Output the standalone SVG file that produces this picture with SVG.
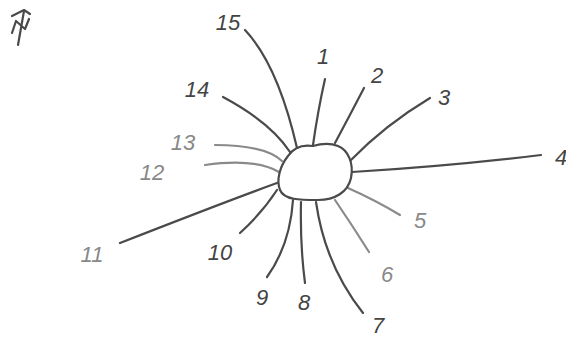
<svg xmlns="http://www.w3.org/2000/svg" width="566" height="337" viewBox="0 0 566 337">
<style>
.ln{fill:none;stroke:#4a4a4a;stroke-width:2.2;stroke-linecap:round;stroke-linejoin:round}
.lt{stroke:#8a8a8a}
.lb{font-family:"Liberation Sans",Arial,sans-serif;font-size:22px;fill:#444;font-style:italic;text-anchor:middle}
.lbt{fill:#888}
</style>
<rect width="566" height="337" fill="#fff"/>
<g id="north">
<path class="ln" d="M18,45 L24,11 M12,16 L24,10 L30,14 M12,33 L16,21 L25,29 L29,19"/>
</g>
<g id="connectors">
<path class="ln" d="M325,79 Q318,110 313,145"/>
<path class="ln" d="M364,88 Q350,115 335,143"/>
<path class="ln" d="M430,98 Q385,125 351,160"/>
<path class="ln" d="M541,155 Q450,166 352,172"/>
<path class="ln lt" d="M400,215 Q375,200 348,188"/>
<path class="ln lt" d="M369,252 Q352,225 335,200"/>
<path class="ln" d="M363,313 Q325,265 316,202"/>
<path class="ln" d="M305,283 Q300,245 301,202"/>
<path class="ln" d="M267,277 Q290,245 293,200"/>
<path class="ln" d="M240,233 Q262,213 277,190"/>
<path class="ln" d="M120,243 Q230,200 277,183"/>
<path class="ln lt" d="M205,165 Q255,158 279,172"/>
<path class="ln lt" d="M215,145 Q265,145 282,161"/>
<path class="ln" d="M223,97 Q270,122 290,152"/>
<path class="ln" d="M245,30 Q278,65 297,148"/>
</g>
<g id="hub">
<path class="ln" d="M313,146 C300,144 292,150 288,156 C280,166 276,180 280,190 C284,200 300,200 318,200 C335,200 348,192 351,178 C354,163 348,150 338,146 C330,143 320,144 313,146 Z"/>
</g>
<g id="n1"><text class="lb" x="323" y="64">1</text></g>
<g id="n2"><text class="lb" x="377" y="83">2</text></g>
<g id="n3"><text class="lb" x="444" y="105">3</text></g>
<g id="n4"><text class="lb" x="561" y="165">4</text></g>
<g id="n5"><text class="lb lbt" x="420" y="228">5</text></g>
<g id="n6"><text class="lb lbt" x="387" y="282">6</text></g>
<g id="n7"><text class="lb" x="378" y="333">7</text></g>
<g id="n8"><text class="lb" x="304" y="310">8</text></g>
<g id="n9"><text class="lb" x="262" y="305">9</text></g>
<g id="n10"><text class="lb" x="220" y="260">10</text></g>
<g id="n11"><text class="lb lbt" x="92" y="262">11</text></g>
<g id="n12"><text class="lb lbt" x="152" y="180">12</text></g>
<g id="n13"><text class="lb lbt" x="183" y="150">13</text></g>
<g id="n14"><text class="lb" x="197" y="97">14</text></g>
<g id="n15"><text class="lb" x="228" y="30">15</text></g>
</svg>
